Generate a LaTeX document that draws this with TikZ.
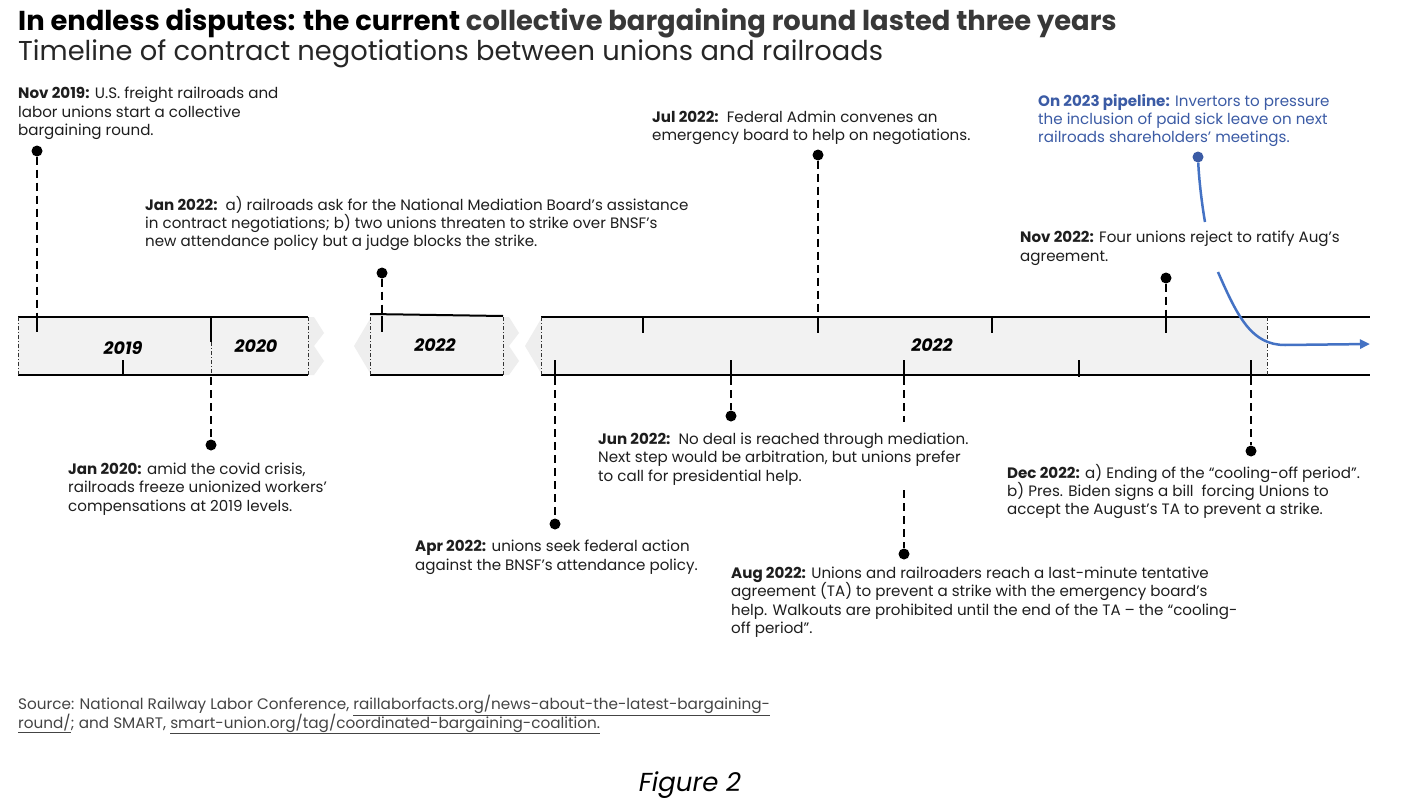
\documentclass[tikz,border=0pt]{standalone}
\usepackage{fontspec}
\setmainfont{Poppins}
\usetikzlibrary{arrows.meta}
\definecolor{txt}{HTML}{1E1E1E}
\definecolor{barfill}{HTML}{F2F2F2}
\definecolor{breakfill}{HTML}{EEEEEE}
\definecolor{blueline}{HTML}{4472C4}
\definecolor{bluetxt}{HTML}{3B5BA5}
\definecolor{srcgray}{HTML}{444444}
\tikzset{
  body/.style={anchor=north west, inner sep=0pt, align=left, text=txt, font=\fontsize{15.1}{18.3}\selectfont},
  dot/.style={circle, fill=black, inner sep=0pt, minimum size=11pt},
  conn/.style={line width=2pt, dash pattern=on 8pt off 5pt},
  tick/.style={line width=2pt},
  barline/.style={line width=2pt},
  edge/.style={line width=0.8pt, dash pattern=on 4pt off 2pt on 1pt off 2pt, black!80},
  yearlbl/.style={inner sep=0pt, font=\fontsize{17.5}{20}\selectfont\bfseries\itshape},
}
\newcommand{\srcul}[1]{\smash{\underline{#1}}}
\begin{document}
\begin{tikzpicture}[x=1pt,y=-1pt]
\useasboundingbox[fill=white] (0,0) rectangle (1406,808);
% titles
\node[anchor=base west, inner sep=0pt, font=\fontsize{27.35}{30}\selectfont\bfseries] (title) at (18,31) {In endless disputes: the current \textcolor{black!78}{collective bargaining round lasted three years}};
\node[anchor=base west, inner sep=0pt, font=\fontsize{27.3}{30}\selectfont, text=black!85] (subtitle) at (18,61) {Timeline of contract negotiations between unions and railroads};

% bars
\fill[barfill] (18,317) rectangle (308,375);
\fill[breakfill] (308,317) -- (314,317) -- (324,333) -- (314,346) -- (324,361) -- (314,375) -- (308,375) -- cycle;
\fill[breakfill] (370,319) -- (354,346) -- (370,373) -- cycle;
\fill[barfill] (370,315) rectangle (503,375);
\fill[breakfill] (503,317) -- (509,317) -- (519,333) -- (509,346) -- (519,361) -- (509,375) -- (503,375) -- cycle;
\fill[breakfill] (541,319) -- (525,346) -- (541,373) -- cycle;
\fill[barfill] (541,317) rectangle (1267,375);
\draw[barline] (18,317) -- (308,317);
\draw[barline] (18,375) -- (308,375);
\draw[barline] (370,314) -- (503,316);
\draw[barline] (370,375) -- (503,375);
\draw[barline] (541,317) -- (1370,317);
\draw[barline] (541,375) -- (1370,375);
\foreach \x in {18,308,370,503,541,1267} \draw[edge] (\x,317) -- (\x,375);
\draw[tick] (211,317) -- (211,342);
\draw[edge] (211,342) -- (211,375);
% ticks
\draw[tick] (37,317) -- (37,332);
\draw[tick] (123,360) -- (123,375);
\draw[tick] (382,316) -- (382,332);
\foreach \x in {643,818,992,1166} \draw[tick] (\x,317) -- (\x,333);
\foreach \x in {555,731,904,1079,1251} \draw[tick] (\x,360) -- (\x,377);
% year labels
\node[yearlbl] (y2019) at (123,348) {2019};
\node[yearlbl] (y2020) at (256,346) {2020};
\node[yearlbl] (y2022a) at (435,345) {2022};
\node[yearlbl] (y2022b) at (932,345) {2022};

% bar anchor coordinates
\coordinate (bNov19) at (37,317);
\coordinate (bJan20) at (211,377);
\coordinate (bJan22) at (382,316);
\coordinate (bApr22) at (555,377);
\coordinate (bJun22) at (731,377);
\coordinate (bJul22) at (818,317);
\coordinate (bAug22) at (904,377);
\coordinate (bAug22g) at (904,422);
\coordinate (bAug22h) at (904,490);
\coordinate (bNov22) at (1166,317);
\coordinate (bDec22) at (1251,377);

% dots
\node[dot] (dNov19) at (37,151) {};
\node[dot] (dJan20) at (211,445) {};
\node[dot] (dJan22) at (382,273) {};
\node[dot] (dApr22) at (555,524) {};
\node[dot] (dJun22) at (731,416) {};
\node[dot] (dJul22) at (818,155) {};
\node[dot] (dAug22) at (904,554) {};
\node[dot] (dNov22) at (1166,278) {};
\node[dot] (dDec22) at (1251,451) {};
\node[dot, fill=bluetxt] (d2023) at (1198,157) {};

% connectors
\draw[conn] (dNov19) -- (bNov19);
\draw[conn] (bJan20) -- (dJan20);
\draw[conn] (dJan22) -- (bJan22);
\draw[conn] (bApr22) -- (dApr22);
\draw[conn] (bJun22) -- (dJun22);
\draw[conn] (dJul22) -- (bJul22);
\draw[conn] (bAug22) -- (bAug22g);
\draw[conn] (bAug22h) -- (dAug22);
\draw[conn] (dNov22) -- (bNov22);
\draw[conn] (bDec22) -- (dDec22);

% 2023 curve
\coordinate (c1) at (1205,222);
\coordinate (c2) at (1218,272);
\coordinate (cEnd) at (1370,344);
\draw[blueline, line width=2.5pt] (d2023) .. controls (1199,180) and (1202,205) .. (c1);
\draw[blueline, line width=2.5pt, -{Triangle[length=10pt,width=9pt]}] (c2) .. controls (1238,318) and (1252,345) .. (1285,345) -- (cEnd);

% event texts
\node[body] (tNov19) at (18,87) {\textbf{Nov 2019:} U.S. freight railroads and\\labor unions start a collective\\bargaining round.};
\node[body] (tJan20) at (68,463) {\textbf{Jan 2020:} amid the covid crisis,\\railroads freeze unionized workers’\\compensations at 2019 levels.};
\node[body] (tJan22) at (145,196) {\textbf{Jan 2022:}\ \ a) railroads ask for the National Mediation Board’s assistance\\in contract negotiations; b) two unions threaten to strike over BNSF’s\\new attendance policy but a judge blocks the strike.};
\node[body] (tApr22) at (415,540) {\textbf{Apr 2022:} unions seek federal action\\against the BNSF’s attendance policy.};
\node[body] (tJun22) at (598,433) {\textbf{Jun 2022:}\ \ No deal is reached through mediation.\\Next step would be arbitration, but unions prefer\\to call for presidential help.};
\node[body] (tJul22) at (652,111) {\textbf{Jul 2022:}\ \ Federal Admin convenes an\\emergency board to help on negotiations.};
\node[body] (tAug22) at (731,567) {\textbf{Aug 2022:} Unions and railroaders reach a last-minute tentative\\agreement (TA) to prevent a strike with the emergency board’s\\help. Walkouts are prohibited until the end of the TA – the “cooling-\\off period”.};
\node[body] (tNov22) at (1020,231) {\textbf{Nov 2022:} Four unions reject to ratify Aug’s\\agreement.};
\node[body] (tDec22) at (1007,464) {\textbf{Dec 2022:} a) Ending of the “cooling-off period”.\\b) Pres. Biden signs a bill\ \ forcing Unions to\\accept the August’s TA to prevent a strike.};
\node[body, text=bluetxt] (t2023) at (1038,94) {\textbf{On 2023 pipeline:} Invertors to pressure\\the inclusion of paid sick leave on next\\railroads shareholders’ meetings.};

% source
\node[body, text=srcgray, font=\fontsize{15.25}{18.3}\selectfont] (source) at (18,698) {Source: National Railway Labor Conference, \srcul{raillaborfacts.org/news-about-the-latest-bargaining-}\\\srcul{round/}; and SMART, \srcul{smart-union.org/tag/coordinated-bargaining-coalition.}};
\node[anchor=base, inner sep=0pt, font=\fontsize{26}{30}\selectfont\itshape] (fig) at (690,791) {Figure 2};
\end{tikzpicture}
\end{document}
